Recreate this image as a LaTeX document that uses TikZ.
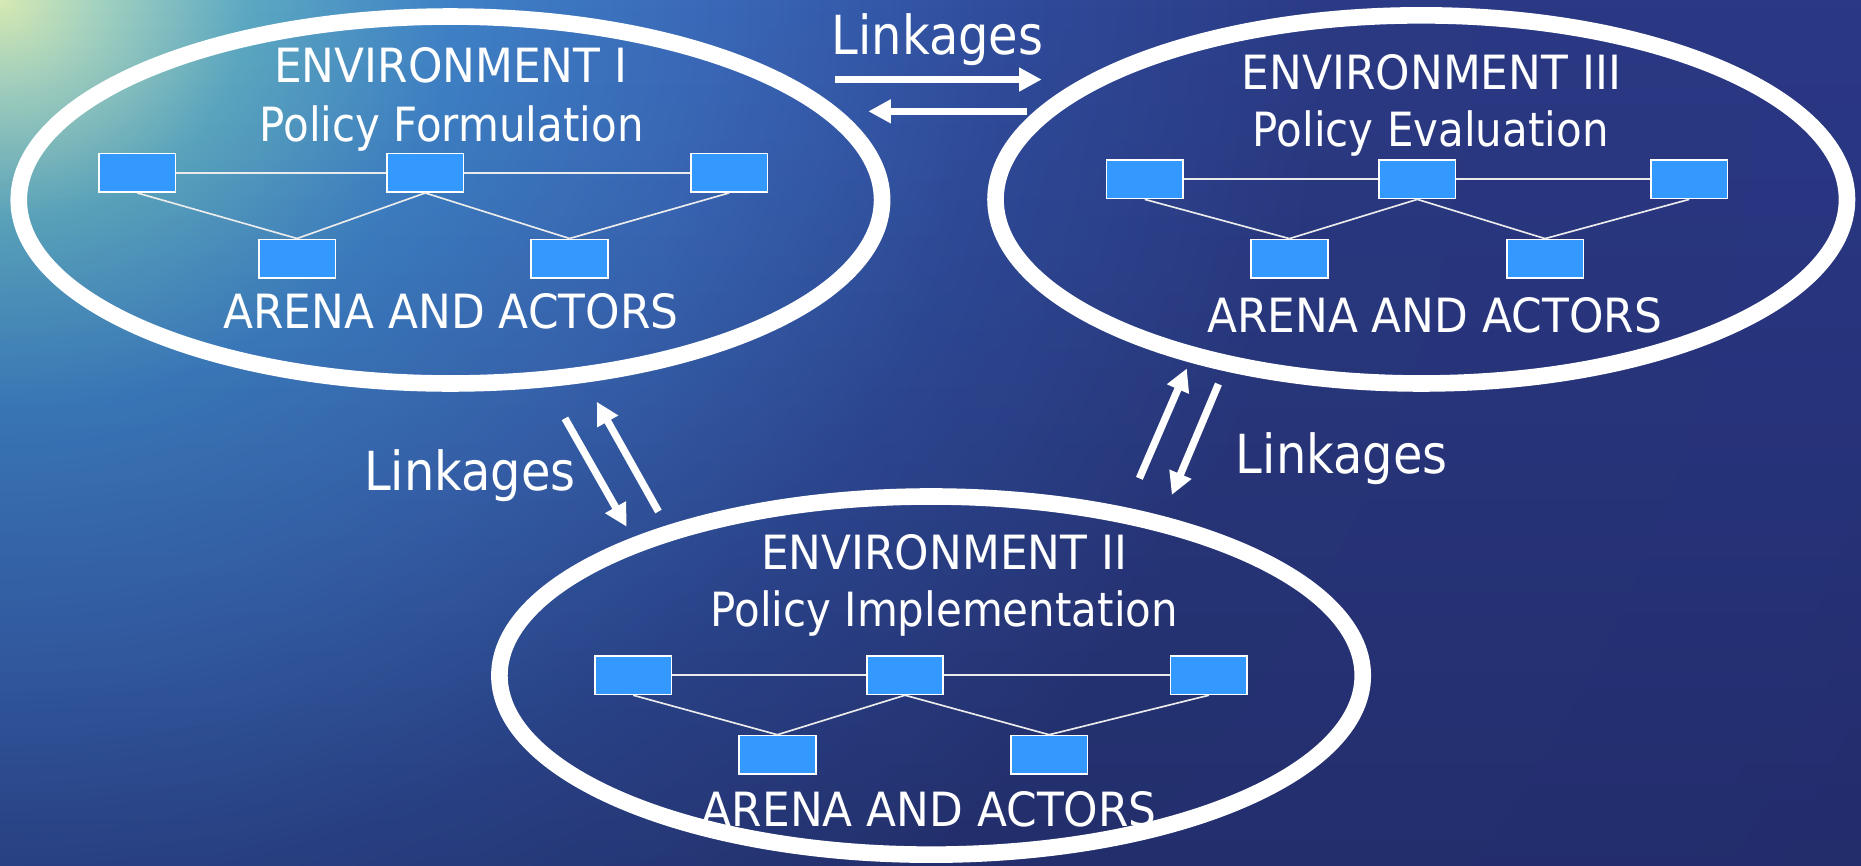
\documentclass[tikz,border=0pt]{standalone}
\usepackage{fontspec}
\setmainfont{DejaVu Sans}[FakeStretch=0.89]
\newfontfamily\capsfont{DejaVu Sans}[FakeStretch=0.93]
\usetikzlibrary{arrows.meta,shapes.geometric}
\definecolor{boxblue}{HTML}{3399FF}
\definecolor{ocA}{HTML}{D6E9B2}
\definecolor{ocB}{HTML}{A4D2C0}
\definecolor{ocC}{HTML}{5CA8C2}
\definecolor{ocD}{HTML}{3E80C6}
\definecolor{ocE}{HTML}{3A68B8}
\definecolor{ocF}{HTML}{304C9C}
\definecolor{ocG}{HTML}{2B3A84}
\definecolor{ocH}{HTML}{2B3886}
\definecolor{ocI}{HTML}{2A3580}
\pgfdeclareradialshading{ocean}{\pgfpoint{0bp}{0bp}}{color(0bp)=(ocA); color(1bp)=(ocB); color(2.6bp)=(ocC); color(4.8bp)=(ocD); color(7.5bp)=(ocE); color(10.5bp)=(ocF); color(14bp)=(ocG); color(20bp)=(ocH); color(25bp)=(ocI); color(50bp)=(ocI)}
\begin{document}
\begin{tikzpicture}[
        x=0.01cm, y=-0.01cm,
        env ring/.style={ellipse, draw=white, line width=3.98pt, inner sep=0pt},
        actor/.style={rectangle, draw=white, fill=boxblue, line width=0.4pt, minimum width=0.645cm, minimum height=0.325cm, inner sep=0pt},
        tie/.style={draw, white!92!black, line width=0.4pt},
        env_text/.style={text=white, anchor=base, inner sep=0pt, font=\fontsize{11.3}{13}\selectfont},
        env_caps/.style={env_text, font=\fontsize{11.3}{13}\capsfont},
        link_text/.style={text=white, anchor=base, inner sep=0pt, font=\fontsize{12.9}{15}\selectfont},
        link arrow/.style={draw=white, line width=1.76pt, -{Triangle[length=5.4pt, width=5.4pt]}}
    ]
	\useasboundingbox (0,0) rectangle (1568,729);
	\begin{scope}
	\clip (0,0) rectangle (1568,729);
	\shade[shading=ocean] (0,0) ellipse [x radius=2000, y radius=1800];
	\begin{scope}[blend mode=multiply]
	\shade[top color=white, middle color=white, bottom color=black!18] (0,0) rectangle (1568,729);
	\end{scope}
	\end{scope}
	\node[env ring, minimum width=7.27cm, minimum height=3.09cm] (env_1) at (379.5,168.5) {};
	\node[env ring, minimum width=7.17cm, minimum height=3.10cm] (env_3) at (1197.5,168) {};
	\node[env ring, minimum width=7.27cm, minimum height=3.016cm] (env_2) at (784.5,569.2) {};
	\node[actor] (e1_t0) at (115.7,145.6) {};
	\node[actor] (e1_t1) at (358.3,145.6) {};
	\node[actor] (e1_t2) at (614.3,145.6) {};
	\node[actor] (e1_b0) at (250.3,217.9) {};
	\node[actor] (e1_b1) at (479.9,217.9) {};
	\node[actor] (e3_t0) at (964.5,151) {};
	\node[actor] (e3_t1) at (1194.2,151) {};
	\node[actor] (e3_t2) at (1423.3,151) {};
	\node[actor] (e3_b0) at (1086.4,218) {};
	\node[actor] (e3_b1) at (1301.8,218) {};
	\node[actor] (e2_t0) at (533.5,568.8) {};
	\node[actor] (e2_t1) at (762.5,568.8) {};
	\node[actor] (e2_t2) at (1018.6,568.8) {};
	\node[actor] (e2_b0) at (655,636) {};
	\node[actor] (e2_b1) at (884,636) {};
	\draw[tie] (e1_t0) -- (e1_t1);
	\draw[tie] (e1_t1) -- (e1_t2);
	\draw[tie] (e1_t0.south) -- (e1_b0.north);
	\draw[tie] (e1_t1.south) -- (e1_b0.north);
	\draw[tie] (e1_t1.south) -- (e1_b1.north);
	\draw[tie] (e1_t2.south) -- (e1_b1.north);
	\draw[tie] (e3_t0) -- (e3_t1);
	\draw[tie] (e3_t1) -- (e3_t2);
	\draw[tie] (e3_t0.south) -- (e3_b0.north);
	\draw[tie] (e3_t1.south) -- (e3_b0.north);
	\draw[tie] (e3_t1.south) -- (e3_b1.north);
	\draw[tie] (e3_t2.south) -- (e3_b1.north);
	\draw[tie] (e2_t0) -- (e2_t1);
	\draw[tie] (e2_t1) -- (e2_t2);
	\draw[tie] (e2_t0.south) -- (e2_b0.north);
	\draw[tie] (e2_t1.south) -- (e2_b0.north);
	\draw[tie] (e2_t1.south) -- (e2_b1.north);
	\draw[tie] (e2_t2.south) -- (e2_b1.north);
	\node[env_caps] (e1_name) at (379.8,69.7) {ENVIRONMENT I};
	\node[env_text] (e1_role) at (380.5,119.4) {Policy Formulation};
	\node[env_caps] (e1_arena) at (380,276.6) {ARENA AND ACTORS};
	\node[env_caps] (e3_name) at (1206,75.8) {ENVIRONMENT III};
	\node[env_text] (e3_role) at (1205.5,123.6) {Policy Evaluation};
	\node[env_caps] (e3_arena) at (1208.7,280.3) {ARENA AND ACTORS};
	\node[env_caps] (e2_name) at (795.5,480) {ENVIRONMENT II};
	\node[env_text] (e2_role) at (795.6,528) {Policy Implementation};
	\node[env_caps] (e2_arena) at (783,696.5) {ARENA AND ACTORS};
	\node[link_text] (link_13) at (790,46.3) {Linkages};
	\node[link_text] (link_12) at (396,413) {Linkages};
	\node[link_text] (link_23) at (1130.5,398.8) {Linkages};
	\coordinate (a13_from) at (703.6,67);
	\coordinate (a13_to) at (877.7,67);
	\coordinate (a31_from) at (865,93.8);
	\coordinate (a31_to) at (731.6,93.8);
	\coordinate (a12_from) at (476,352.5);
	\coordinate (a12_to) at (528,443.8);
	\coordinate (a21_from) at (554.8,431);
	\coordinate (a21_to) at (502.8,338.5);
	\coordinate (a23_from) at (960,403);
	\coordinate (a23_to) at (1000,310.4);
	\coordinate (a32_from) at (1026.6,323.6);
	\coordinate (a32_to) at (987.3,417);
	\draw[link arrow] (a13_from) -- (a13_to);
	\draw[link arrow] (a31_from) -- (a31_to);
	\draw[link arrow] (a12_from) -- (a12_to);
	\draw[link arrow] (a21_from) -- (a21_to);
	\draw[link arrow] (a23_from) -- (a23_to);
	\draw[link arrow] (a32_from) -- (a32_to);
    \end{tikzpicture}
\end{document}
